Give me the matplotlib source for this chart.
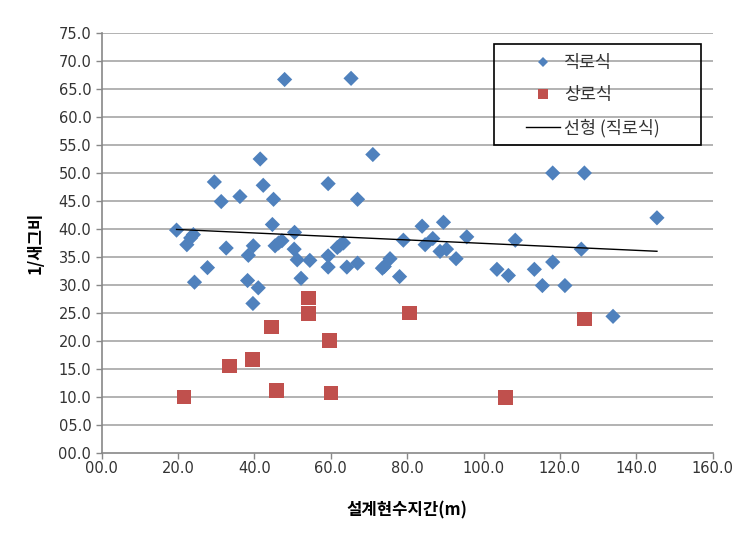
import numpy as np
import matplotlib
matplotlib.use("Agg")
import matplotlib.pyplot as plt
from matplotlib.lines import Line2D
from matplotlib.patches import Rectangle

plt.rcParams['font.family'] = ['Noto Sans CJK KR', 'DejaVu Sans']

# 직로식 (blue diamonds)
blue_x = [19.6, 22.3, 23.3, 24.0, 24.3, 27.7, 29.5, 31.3, 32.6, 36.2, 38.2, 38.4, 39.6, 39.7,
          41.0, 41.5, 42.3, 44.7, 45.0, 45.4, 46.3, 47.2, 47.9, 50.5, 50.4, 51.2, 52.2, 54.5,
          59.3, 59.3, 59.3, 61.7, 62.4, 63.3, 64.2, 65.3, 67.0, 67.0, 71.0, 73.5, 74.0, 75.5,
          78.0, 79.0, 83.9, 84.7, 86.7, 88.6, 90.3, 89.5, 92.8, 95.6, 103.5, 106.5, 108.3,
          113.3, 115.4, 118.1, 118.1, 121.3, 125.6, 126.4, 133.9, 145.4]
blue_y = [39.8, 37.2, 38.4, 39.0, 30.5, 33.1, 48.4, 44.9, 36.6, 45.8, 30.8, 35.3, 26.7, 37.0,
          29.5, 52.5, 47.8, 40.8, 45.3, 37.0, 37.5, 37.9, 66.7, 39.4, 36.4, 34.5, 31.2, 34.4,
          48.1, 35.2, 33.2, 36.7, 37.1, 37.5, 33.2, 66.9, 45.3, 33.9, 53.3, 33.0, 33.3, 34.7,
          31.5, 38.0, 40.5, 37.2, 38.3, 36.0, 36.4, 41.2, 34.7, 38.6, 32.8, 31.7, 38.0,
          32.8, 29.9, 34.1, 50.0, 29.9, 36.4, 50.0, 24.4, 42.0]

# 상로식 (red squares)
red_x = [21.6, 33.4, 39.5, 44.4, 45.7, 54.1, 54.1, 59.6, 60.0, 80.6, 105.7, 126.4]
red_y = [10.0, 15.5, 16.7, 22.5, 11.2, 27.7, 24.9, 20.1, 10.7, 25.0, 9.9, 23.9]

x_ticks = [0, 20, 40, 60, 80, 100, 120, 140, 160]
y_ticks = [0, 5, 10, 15, 20, 25, 30, 35, 40, 45, 50, 55, 60, 65, 70, 75]

blue_c = '#4F81BD'
red_c = '#C0504D'
grid_c = '#A6A6A6'

fig = plt.figure(figsize=(7.45, 5.38), dpi=100)
ax = fig.add_axes([101.7/745, 85/538, 611/745, 420/538])

ax.set_xlim(0, 160)
ax.set_ylim(0, 75)
ax.set_yticks(y_ticks)
ax.set_xticks(x_ticks)
ax.set_yticklabels([f"{v:04.1f}" for v in y_ticks], family='DejaVu Sans', fontsize=10.5, color='#333333')
ax.set_xticklabels([f"{v:04.1f}" for v in x_ticks], family='DejaVu Sans', fontsize=10.5, color='#333333')

for v in y_ticks[1:]:
    ax.axhline(v, color=grid_c, lw=1.2, zorder=0)

for s in ['top', 'right']:
    ax.spines[s].set_visible(False)
for s in ['left', 'bottom']:
    ax.spines[s].set_color('#888888')
    ax.spines[s].set_linewidth(1.2)
ax.tick_params(axis='both', direction='out', length=4, color='#888888', width=1)
ax.tick_params(axis='x', pad=2)

ax.scatter(blue_x, blue_y, marker='D', s=60, color=blue_c, edgecolors='none', zorder=3)
ax.scatter(red_x, red_y, marker='s', s=110, color=red_c, edgecolors='none', zorder=3)

bx = np.array(blue_x)
coef = np.polyfit(bx, np.array(blue_y), 1)
xl = np.array([bx.min(), bx.max()])
ax.plot(xl, np.polyval(coef, xl), color='black', lw=1.0, zorder=4)

# legend frame drawn separately (Excel-style wide, transparent box)
frame = Rectangle((0.642, 0.733), 0.981 - 0.642, 0.974 - 0.733, transform=ax.transAxes,
                  facecolor='none', edgecolor='black', lw=1.2, zorder=5)
ax.add_patch(frame)

handles = [
    Line2D([], [], marker='D', color=blue_c, ls='none', markersize=5.5, markeredgewidth=0),
    Line2D([], [], marker='s', color=red_c, ls='none', markersize=7.5, markeredgewidth=0),
    Line2D([], [], color='black', lw=1.0),
]
labels = ['직로식', '상로식', '선형 (직로식)']
leg = ax.legend(handles, labels, loc='upper left', bbox_to_anchor=(0.694, 0.950),
                fontsize=12.5, frameon=False, borderpad=0, labelspacing=0.82,
                handlelength=2.0, handletextpad=0.2, borderaxespad=0)
leg.set_zorder(6)
for t in leg.get_texts():
    t.set_color('#333333')

ax.set_xlabel('설계현수지간(m)', fontsize=12, fontweight='bold', labelpad=18)
ax.set_ylabel('1/새그비', fontsize=12, fontweight='bold', labelpad=10)

fig.savefig('out.png', dpi=100)
